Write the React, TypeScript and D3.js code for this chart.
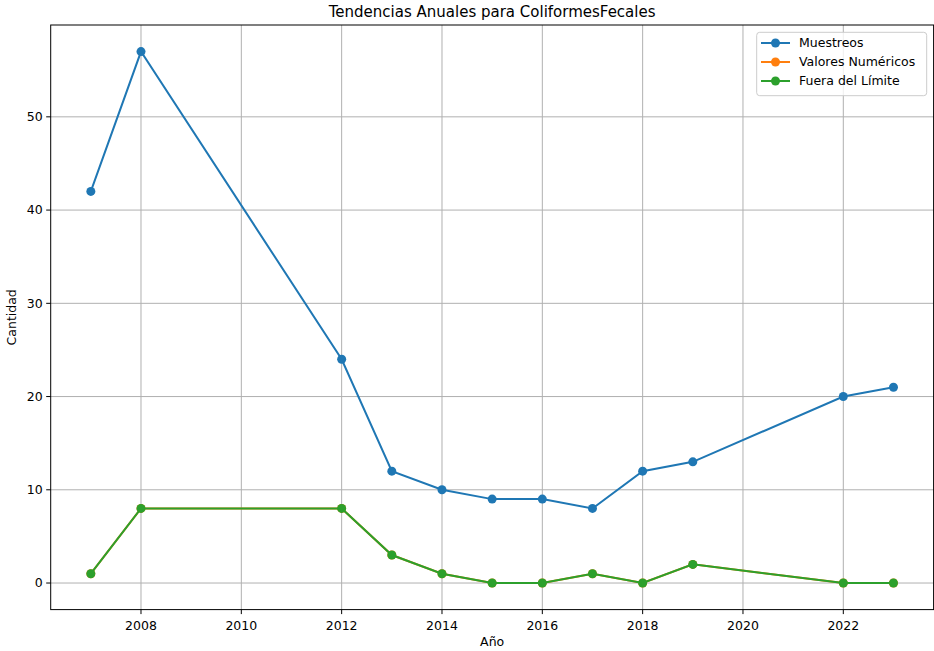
import React from "react";
import * as d3 from "d3";

const years = [2007, 2008, 2012, 2013, 2014, 2015, 2016, 2017, 2018, 2019, 2022, 2023];
const muestreos = [42, 57, 24, 12, 10, 9, 9, 8, 12, 13, 20, 21];
const valoresNumericos = [1, 8, 8, 3, 1, 0, 0, 1, 0, 2, 0, 0];
const fueraLimite = [1, 8, 8, 3, 1, 0, 0, 1, 0, 2, 0, 0];
const xTicks = [2008, 2010, 2012, 2014, 2016, 2018, 2020, 2022];
const yTicks = [0, 10, 20, 30, 40, 50];

const series = [
  { name: "Muestreos", values: muestreos, color: "#1f77b4" },
  { name: "Valores Numéricos", values: valoresNumericos, color: "#ff7f0e" },
  { name: "Fuera del Límite", values: fueraLimite, color: "#2ca02c" },
];

export default function App() {
  const W = 934, H = 651;
  const left = 50.7, right = 933.6, top = 25, bottom = 609.6;
  const x = d3.scaleLinear().domain([2006.2, 2023.8]).range([left, right]);
  const y = d3.scaleLinear().domain([-2.85, 59.85]).range([bottom, top]);
  const line = d3.line<[number, number]>().x(d => x(d[0])).y(d => y(d[1]));
  const font = "DejaVu Sans, sans-serif";
  const fs = 12.5;
  return (
    <svg width={W} height={H} style={{ position: "absolute", left: 0, top: 0, background: "#fff" }} fontFamily={font}>
      <rect width={W} height={H} fill="#fff" />
      {xTicks.map(t => (
        <line key={"gx" + t} x1={x(t)} x2={x(t)} y1={top} y2={bottom} stroke="#b0b0b0" strokeWidth={1} />
      ))}
      {yTicks.map(t => (
        <line key={"gy" + t} x1={left} x2={right} y1={y(t)} y2={y(t)} stroke="#b0b0b0" strokeWidth={1} />
      ))}
      {series.map(s => (
        <g key={s.name}>
          <path d={line(years.map((yr, i) => [yr, s.values[i]] as [number, number])) || ""} fill="none" stroke={s.color} strokeWidth={2} />
          {years.map((yr, i) => (
            <circle key={yr} cx={x(yr)} cy={y(s.values[i])} r={4.5} fill={s.color} />
          ))}
        </g>
      ))}
      <rect x={left} y={top} width={right - left} height={bottom - top} fill="none" stroke="#000" strokeWidth={1} />
      {xTicks.map(t => (
        <g key={"tx" + t}>
          <line x1={x(t)} x2={x(t)} y1={bottom} y2={bottom + 4.5} stroke="#000" strokeWidth={1} />
          <text x={x(t)} y={bottom + 20} textAnchor="middle" fontSize={fs} fill="#000">{t}</text>
        </g>
      ))}
      {yTicks.map(t => (
        <g key={"ty" + t}>
          <line x1={left - 4.5} x2={left} y1={y(t)} y2={y(t)} stroke="#000" strokeWidth={1} />
          <text x={left - 8} y={y(t)} dy="0.35em" textAnchor="end" fontSize={fs} fill="#000">{t}</text>
        </g>
      ))}
      <text x={(left + right) / 2} y={17} textAnchor="middle" fontSize={15} fill="#000">Tendencias Anuales para ColiformesFecales</text>
      <text x={(left + right) / 2} y={646} textAnchor="middle" fontSize={fs} fill="#000">Año</text>
      <text transform={`translate(16,${(top + bottom) / 2}) rotate(-90)`} textAnchor="middle" fontSize={fs} fill="#000">Cantidad</text>
      <g>
        <rect x={756.7} y={32.3} width={170} height={63.4} rx={3} fill="#fff" fillOpacity={0.8} stroke="#cccccc" strokeWidth={1} />
        {series.map((s, i) => (
          <g key={"lg" + s.name}>
            <line x1={761} x2={790} y1={43 + i * 19} y2={43 + i * 19} stroke={s.color} strokeWidth={2} />
            <circle cx={775.5} cy={43 + i * 19} r={4.5} fill={s.color} />
            <text x={799} y={43 + i * 19} dy="0.35em" fontSize={fs} fill="#000">{s.name}</text>
          </g>
        ))}
      </g>
    </svg>
  );
}
